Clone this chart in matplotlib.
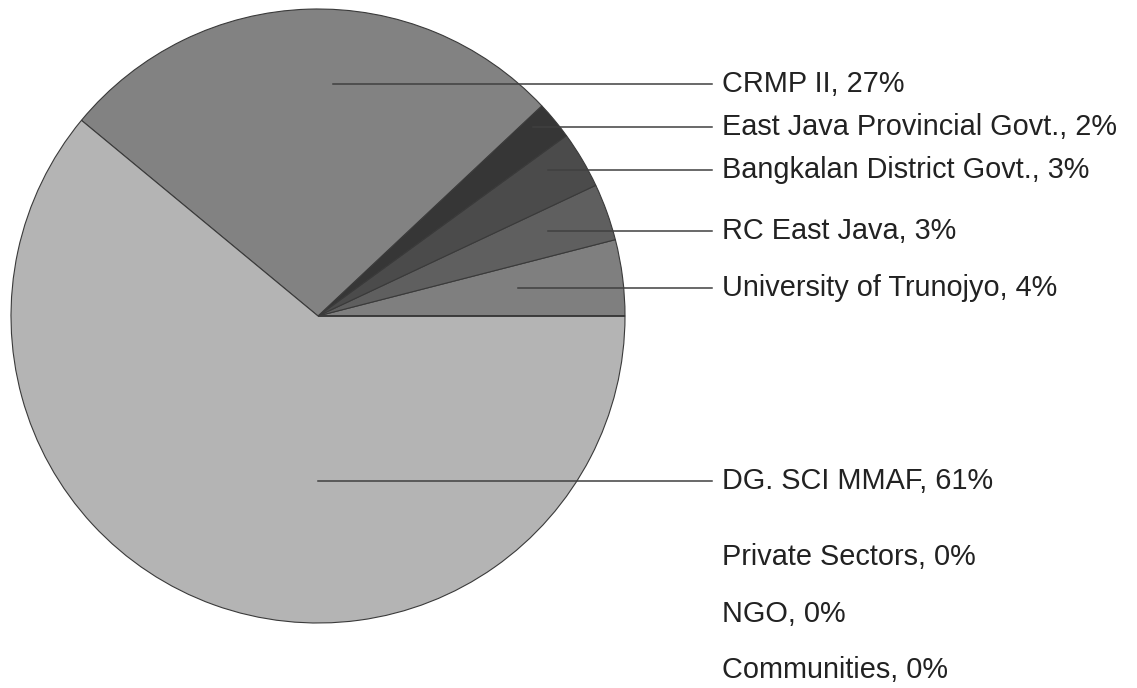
import matplotlib.pyplot as plt

# Funding sources, in pie order (counter-clockwise from 3 o'clock)
sources = ['University of Trunojyo', 'RC East Java', 'Bangkalan District Govt.',
           'East Java Provincial Govt.', 'CRMP II', 'DG. SCI MMAF',
           'Private Sectors', 'NGO', 'Communities']
shares = [4, 3, 3, 2, 27, 61, 0, 0, 0]

colors = ['#7f7f7f', '#5f5f5f', '#4b4b4b', '#363636', '#828282', '#b4b4b4',
          '#b4b4b4', '#b4b4b4', '#b4b4b4']

W, H = 1137, 688
# layout (pixels from top-left)
cx, cy, rad = 318, 316, 307
label_x = 722
label_y = [288, 231, 170, 127, 84, 481, 557, 614, 670]
leader_x0 = [518, 548, 548, 533, 333, 318]

fig = plt.figure(figsize=(W / 100, H / 100), dpi=100)
ax = fig.add_axes([0, 0, 1, 1])
ax.pie(shares, colors=colors, startangle=0, counterclock=True,
       center=(cx, H - cy), radius=rad,
       wedgeprops=dict(edgecolor='#3a3a3a', linewidth=0.8))
ax.set_xlim(0, W)
ax.set_ylim(0, H)
ax.set_aspect('auto')
ax.axis('off')

for i, (name, val) in enumerate(zip(sources, shares)):
    y = H - label_y[i]
    if val > 0:
        ax.plot([leader_x0[i], label_x - 10], [y, y], color='#404040', lw=1.1)
    ax.text(label_x, y, f'{name}, {val}%', fontsize=20.8, family='Liberation Sans',
            color='#222222', va='center', ha='left')

fig.savefig('out.png', dpi=100)
